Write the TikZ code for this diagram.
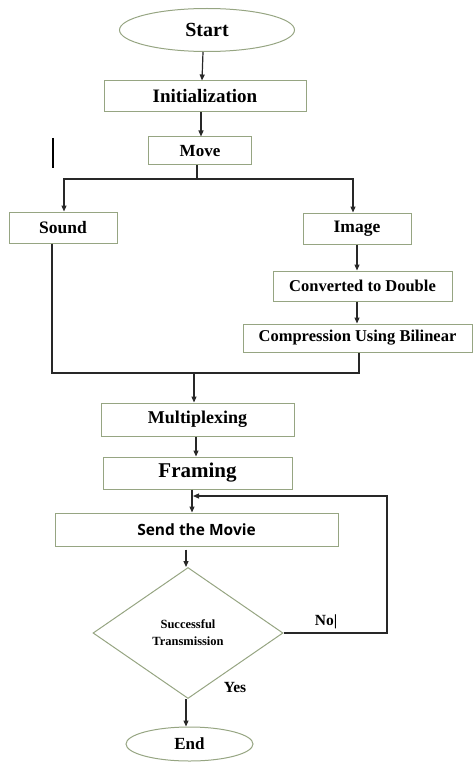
\documentclass[tikz,border=0pt]{standalone}
\usepackage{fontspec}
\setmainfont{Liberation Serif}
\newfontfamily\sendfont{Open Sans}
\usetikzlibrary{shapes.geometric,arrows.meta}
\definecolor{boxline}{RGB}{150,165,130}
\definecolor{wireline}{RGB}{40,40,40}
\begin{document}
\begin{tikzpicture}[x=1pt,y=-1pt,
  stepbox/.style={draw=boxline,line width=1pt,rectangle,inner sep=0pt,font=\bfseries},
  termbox/.style={draw=boxline,line width=1pt,ellipse,inner sep=0pt,font=\bfseries},
  decbox/.style={draw=boxline,line width=1pt,diamond,inner sep=0pt,aspect=1.45,align=center,font=\bfseries\fontsize{12.5}{17}\selectfont},
  wire/.style={draw=wireline,line width=1.2pt},
  arr/.style={wire,-{Triangle[length=6pt,width=5pt]}},
  lbl/.style={font=\bfseries\fontsize{15.5}{18}\selectfont,inner sep=0pt}]
\useasboundingbox (0,0) rectangle (473,762);

% terminals and process steps
\node[termbox,minimum width=175,minimum height=43,font=\bfseries\fontsize{20}{24}\selectfont] (start) at (207,30) {Start};
\node[stepbox,minimum width=202,minimum height=31,font=\bfseries\fontsize{19}{22}\selectfont] (init) at (205,96.5) {Initialization};
\node[stepbox,minimum width=103,minimum height=28,font=\bfseries\fontsize{17}{20}\selectfont] (move) at (200,151) {Move};
\node[stepbox,minimum width=108,minimum height=31,font=\bfseries\fontsize{17.5}{20}\selectfont] (sound) at (63,227.5) {Sound};
\node[stepbox,minimum width=108,minimum height=31,font=\bfseries\fontsize{17.5}{20}\selectfont] (image) at (357,228.5) {Image};
\node[stepbox,minimum width=179,minimum height=30,font=\bfseries\fontsize{16.5}{20}\selectfont] (conv) at (362.5,286) {Converted to Double};
\node[stepbox,minimum width=229,minimum height=28,font=\bfseries\fontsize{16.5}{20}\selectfont] (comp) at (357.5,338) {Compression Using Bilinear};
\node[stepbox,minimum width=193,minimum height=33,font=\bfseries\fontsize{18}{22}\selectfont] (mux) at (197.5,419.5) {Multiplexing};
\node[stepbox,minimum width=189,minimum height=32,font=\bfseries\fontsize{21}{24}\selectfont] (frame) at (197.5,473) {Framing};
\node[stepbox,minimum width=283,minimum height=33,font=\sendfont\bfseries\fontsize{15.5}{18}\selectfont] (send) at (196.5,529.5) {Send the Movie};
\node[decbox,minimum width=190,minimum height=131] (dec) at (188,633) {Successful\\Transmission};
\node[termbox,minimum width=127,minimum height=34,font=\bfseries\fontsize{17}{20}\selectfont] (stop) at (189.5,744) {End};

% branch labels
\node[lbl] (nolbl) at (326,622) {No|};
\node[lbl] (yeslbl) at (235,687) {Yes};

% routing points
\coordinate (split) at (197,179);
\coordinate (merge) at (194,373);
\coordinate (loopr) at (387,633);
\coordinate (loopin) at (193,496);
\coordinate (marktop) at (53,138);
\coordinate (markbot) at (53,168);

% straight flow
\draw[arr] ([xshift=-4pt]start.south) -- ([xshift=-3pt]init.north);
\draw[arr] ([xshift=-4pt]init.south) -- ([xshift=1pt]move.north);
\draw[wire] ([xshift=-3pt]move.south) -- (split);
\draw[arr] (split) -| ([xshift=1pt]sound.north);
\draw[arr] (split) -| ([xshift=-4pt]image.north);
\draw[arr] (image.south) -- (image.south |- conv.north);
\draw[arr] (conv.south -| image.south) -- (image.south |- comp.north);
\draw[wire] ([xshift=-11pt]sound.south) |- (merge);
\draw[wire] ([xshift=1.5pt]comp.south) |- (merge);
\draw[arr] (merge) -- (merge |- mux.north);
\draw[arr] ([xshift=-1.5pt]mux.south) -- ([xshift=-1.5pt]frame.north);
\draw[arr] ([xshift=-5.5pt]frame.south) -- ([xshift=-4.5pt]send.north);
\draw[arr] ([xshift=-10.5pt,yshift=-3pt]send.south) -- ([xshift=-2pt]dec.north);
\draw[arr] ([xshift=-2pt]dec.south) -- ([xshift=-3.5pt]stop.north);

% retry loop
\draw[arr] (dec.east) -- (loopr) -- (loopr |- loopin) -- (loopin);

% stray mark at left
\draw[line width=1.2pt] (marktop) -- (markbot);
\end{tikzpicture}
\end{document}
